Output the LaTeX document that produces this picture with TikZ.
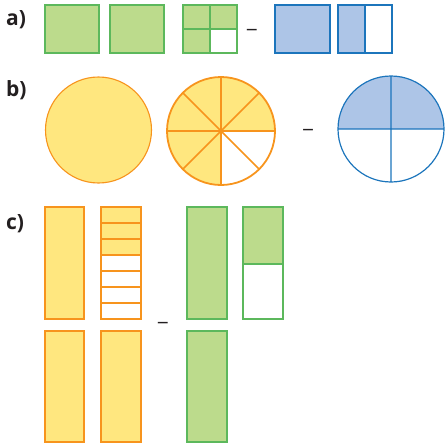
\documentclass[tikz,border=0pt]{standalone}
\usepackage{fontspec}
\setmainfont{Open Sans}
\begin{document}
\begin{tikzpicture}[x=1pt,y=-1pt,
  gfill/.style={fill=gfc,draw=gdc,line width=1.3pt},
  bfill/.style={fill=bfc,draw=bdc,line width=1.3pt},
  yfill/.style={fill=yfc,draw=ydc,line width=1.3pt},
  lbl/.style={font=\fontsize{21}{24}\selectfont\bfseries,text=lblc,anchor=west,inner sep=0pt},
  minus/.style={font=\fontsize{21}{24}\selectfont,text=lblc,inner sep=0pt}]
\definecolor{gfc}{HTML}{BCDB8C}
\definecolor{gdc}{HTML}{5CB85C}
\definecolor{bfc}{HTML}{ADC5E7}
\definecolor{bdc}{HTML}{1C75BC}
\definecolor{yfc}{HTML}{FFE77F}
\definecolor{ydc}{HTML}{F7941D}
\definecolor{lblc}{HTML}{231F20}
\useasboundingbox (0,0) rectangle (447,447);
% labels
\node[lbl] (la) at (6,20) {a)};
\node[lbl] (lb) at (6,90) {b)};
\node[lbl] (lc) at (6,224) {c)};
% a)
\draw[gfill] (45,5) rectangle (99,53);
\draw[gfill] (110,5) rectangle (164,53);
\draw[gfill] (183,5) rectangle (237,53);
\fill[white] (210,29) rectangle (237,53);
\draw[gdc,line width=1.3pt] (210,5) -- (210,53) (183,29) -- (237,29);
\draw[gdc,line width=1.3pt] (183,5) rectangle (237,53);
\node[minus] (ma) at (252,33) {−};
\draw[bfill] (275,5) rectangle (330,53);
\fill[bfc] (338,5) rectangle (365,53);
\draw[bdc,line width=1.3pt] (338,5) rectangle (392,53) (365,5) -- (365,53);
% b)
\draw[fill=yfc,draw=ydc,line width=1.1pt] (98.5,130) circle (53);
\begin{scope}[shift={(221,131)}]
  \fill[yfc] (0,0) -- (54,0) arc[start angle=0,end angle=-270,radius=54] -- cycle;
  \foreach \a in {0,45,...,135}
    \draw[ydc,line width=1.6pt] (\a:54) -- (\a+180:54);
  \draw[ydc,line width=1.8pt] (0,0) circle (54);
\end{scope}
\node[minus] (mb) at (308,133) {−};
\begin{scope}[shift={(391,129)}]
  \fill[bfc] (-53,0) arc[start angle=180,end angle=360,radius=53] -- cycle;
  \draw[bdc,line width=1.2pt] (0,0) circle (53) (-53,0) -- (53,0) (0,-53) -- (0,53);
\end{scope}
% c)
\draw[yfill] (45,207) rectangle (84,319);
\fill[yfc] (101,207) rectangle (141,255);
\foreach \k in {1,...,6}
  \draw[ydc,line width=1.3pt] (101,207+16*\k) -- (141,207+16*\k);
\draw[ydc,line width=1.8pt] (101,207) rectangle (141,319);
\node[minus] (mc) at (163,326) {−};
\draw[gfill] (187,207) rectangle (227,319);
\fill[gfc] (243,207) rectangle (283,264);
\draw[gdc,line width=1.6pt] (243,207) rectangle (283,319) (243,264) -- (283,264);
\draw[yfill] (45,331) rectangle (84,442);
\draw[yfill] (101,331) rectangle (141,442);
\draw[gfill] (187,331) rectangle (227,442);
\end{tikzpicture}
\end{document}
